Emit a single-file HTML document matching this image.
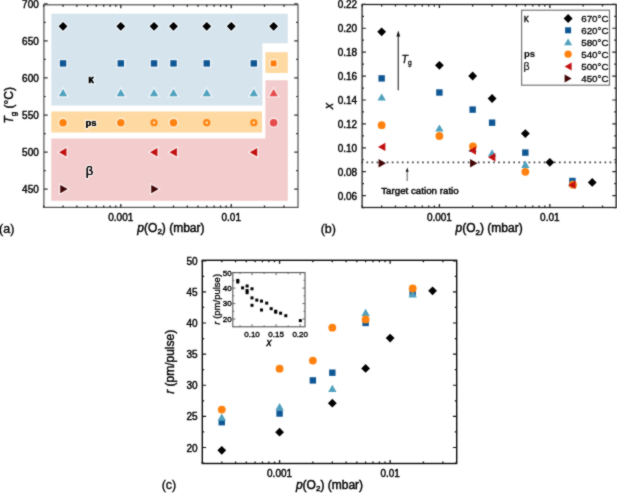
<!DOCTYPE html>
<html><head><meta charset="utf-8"><style>
html,body{margin:0;padding:0;background:#fff;}
body{width:617px;height:493px;overflow:hidden;}
svg{display:block;}
#w{width:617px;height:493px;}
text{font-family:"Liberation Sans",sans-serif;stroke:#000;stroke-width:0.42px;paint-order:stroke;}
</style></head><body><div id="w">
<svg width="617" height="493" viewBox="0 0 617 493" font-family="Liberation Sans, sans-serif" fill="#000">
<defs><filter id="bl" x="0" y="0" width="1" height="1" color-interpolation-filters="sRGB"><feConvolveMatrix order="3" kernelMatrix="1 2 1 2 14 2 1 2 1" divisor="26" edgeMode="duplicate"/></filter></defs><g filter="url(#bl)">
<rect width="617" height="493" fill="#fff"/>
<polygon points="51.3,13.8 287.8,13.8 287.8,43.2 262.4,43.2 262.4,105.4 51.3,105.4" fill="#d6e4ed"/>
<rect x="51.3" y="111.5" width="210.7" height="21" fill="#fed9a2"/>
<rect x="265.4" y="52.2" width="22.4" height="20.8" fill="#fed9a2"/>
<polygon points="51.3,138.6 265.4,138.6 265.4,80.2 287.8,80.2 287.8,200.7 51.3,200.7" fill="#f3cccd"/>
<rect x="43.9" y="4.8" width="254.1" height="202.6" fill="none" stroke="#505050" stroke-width="1.2"/>
<path d="M120.8 207.4V203.9M120.8 4.8V8.3M231.25 207.4V203.9M231.25 4.8V8.3M43.6 207.4V205.5M43.6 4.8V6.7M63.05 207.4V205.5M63.05 4.8V6.7M76.85 207.4V205.5M76.85 4.8V6.7M87.55 207.4V205.5M87.55 4.8V6.7M96.3 207.4V205.5M96.3 4.8V6.7M103.69 207.4V205.5M103.69 4.8V6.7M110.1 207.4V205.5M110.1 4.8V6.7M115.75 207.4V205.5M115.75 4.8V6.7M154.05 207.4V205.5M154.05 4.8V6.7M173.5 207.4V205.5M173.5 4.8V6.7M187.3 207.4V205.5M187.3 4.8V6.7M198 207.4V205.5M198 4.8V6.7M206.75 207.4V205.5M206.75 4.8V6.7M214.14 207.4V205.5M214.14 4.8V6.7M220.55 207.4V205.5M220.55 4.8V6.7M226.2 207.4V205.5M226.2 4.8V6.7M264.5 207.4V205.5M264.5 4.8V6.7M283.95 207.4V205.5M283.95 4.8V6.7" stroke="#222" stroke-width="1.3" fill="none"/>
<path d="M43.9 3.82H47.7M298 3.82H294.2M43.9 40.9H47.7M298 40.9H294.2M43.9 77.97H47.7M298 77.97H294.2M43.9 115.05H47.7M298 115.05H294.2M43.9 152.12H47.7M298 152.12H294.2M43.9 189.2H47.7M298 189.2H294.2M43.9 22.36H45.8M298 22.36H296.1M43.9 59.44H45.8M298 59.44H296.1M43.9 96.51H45.8M298 96.51H296.1M43.9 133.59H45.8M298 133.59H296.1M43.9 170.66H45.8M298 170.66H296.1" stroke="#333" stroke-width="1.2" fill="none"/>
<text x="38.8" y="7.52" font-size="10" text-anchor="end" >700</text>
<text x="38.8" y="44.6" font-size="10" text-anchor="end" >650</text>
<text x="38.8" y="81.67" font-size="10" text-anchor="end" >600</text>
<text x="38.8" y="118.75" font-size="10" text-anchor="end" >550</text>
<text x="38.8" y="155.82" font-size="10" text-anchor="end" >500</text>
<text x="38.8" y="192.9" font-size="10" text-anchor="end" >450</text>
<text x="120.8" y="220.6" font-size="10" text-anchor="middle" >0.001</text>
<text x="231.25" y="220.6" font-size="10" text-anchor="middle" >0.01</text>
<text x="170.95" y="231.5" font-size="12" text-anchor="middle" style="stroke-width:0.45px"><tspan font-style="italic">p</tspan>(O<tspan font-size="8" dy="2.6">2</tspan><tspan dy="-2.6">) (mbar)</tspan></text>
<text transform="translate(13.3 105.3) rotate(-90)" font-size="12" text-anchor="middle"><tspan font-style="italic">T</tspan><tspan font-size="8" dy="3.0">g</tspan><tspan dy="-3.0"> (°C)</tspan></text>
<text x="-0.9" y="232.6" font-size="12.5" text-anchor="start" style="stroke-width:0.35px">(a)</text>
<polygon points="63.05,21.9 67.45,26.3 63.05,30.7 58.65,26.3" fill="#000000" stroke="#fff" stroke-opacity="0.6" stroke-width="2.6" paint-order="stroke"/>
<polygon points="120.8,21.9 125.2,26.3 120.8,30.7 116.4,26.3" fill="#000000" stroke="#fff" stroke-opacity="0.6" stroke-width="2.6" paint-order="stroke"/>
<polygon points="154.05,21.9 158.45,26.3 154.05,30.7 149.65,26.3" fill="#000000" stroke="#fff" stroke-opacity="0.6" stroke-width="2.6" paint-order="stroke"/>
<polygon points="173.5,21.9 177.9,26.3 173.5,30.7 169.1,26.3" fill="#000000" stroke="#fff" stroke-opacity="0.6" stroke-width="2.6" paint-order="stroke"/>
<polygon points="206.75,21.9 211.15,26.3 206.75,30.7 202.35,26.3" fill="#000000" stroke="#fff" stroke-opacity="0.6" stroke-width="2.6" paint-order="stroke"/>
<polygon points="231.25,21.9 235.65,26.3 231.25,30.7 226.85,26.3" fill="#000000" stroke="#fff" stroke-opacity="0.6" stroke-width="2.6" paint-order="stroke"/>
<polygon points="273.64,21.9 278.04,26.3 273.64,30.7 269.24,26.3" fill="#000000" stroke="#fff" stroke-opacity="0.6" stroke-width="2.6" paint-order="stroke"/>
<rect x="59.85" y="60.2" width="6.4" height="6.4" fill="#0f5794" stroke="#fff" stroke-opacity="0.6" stroke-width="2.6" paint-order="stroke"/>
<rect x="117.6" y="60.2" width="6.4" height="6.4" fill="#0f5794" stroke="#fff" stroke-opacity="0.6" stroke-width="2.6" paint-order="stroke"/>
<rect x="150.85" y="60.2" width="6.4" height="6.4" fill="#0f5794" stroke="#fff" stroke-opacity="0.6" stroke-width="2.6" paint-order="stroke"/>
<rect x="170.3" y="60.2" width="6.4" height="6.4" fill="#0f5794" stroke="#fff" stroke-opacity="0.6" stroke-width="2.6" paint-order="stroke"/>
<rect x="203.55" y="60.2" width="6.4" height="6.4" fill="#0f5794" stroke="#fff" stroke-opacity="0.6" stroke-width="2.6" paint-order="stroke"/>
<rect x="250.6" y="60.2" width="6.4" height="6.4" fill="#0f5794" stroke="#fff" stroke-opacity="0.6" stroke-width="2.6" paint-order="stroke"/>
<rect x="270.74" y="60.5" width="5.8" height="5.8" fill="#ff7a08" stroke="#fff" stroke-opacity="0.6" stroke-width="2.6" paint-order="stroke"/>
<polygon points="63.05,89 67.25,96.2 58.85,96.2" fill="#50a1be" stroke="#fff" stroke-opacity="0.6" stroke-width="2.6" paint-order="stroke"/>
<polygon points="120.8,89 125,96.2 116.6,96.2" fill="#50a1be" stroke="#fff" stroke-opacity="0.6" stroke-width="2.6" paint-order="stroke"/>
<polygon points="154.05,89 158.25,96.2 149.85,96.2" fill="#50a1be" stroke="#fff" stroke-opacity="0.6" stroke-width="2.6" paint-order="stroke"/>
<polygon points="173.5,89 177.7,96.2 169.3,96.2" fill="#50a1be" stroke="#fff" stroke-opacity="0.6" stroke-width="2.6" paint-order="stroke"/>
<polygon points="206.75,89 210.95,96.2 202.55,96.2" fill="#50a1be" stroke="#fff" stroke-opacity="0.6" stroke-width="2.6" paint-order="stroke"/>
<polygon points="253.8,89 258,96.2 249.6,96.2" fill="#50a1be" stroke="#fff" stroke-opacity="0.6" stroke-width="2.6" paint-order="stroke"/>
<polygon points="273.64,89 277.84,96.2 269.44,96.2" fill="#e64c4c" stroke="#fff" stroke-opacity="0.6" stroke-width="2.6" paint-order="stroke"/>
<circle cx="63.05" cy="122.7" r="3.8" fill="#ff8210" stroke="#fff" stroke-opacity="0.6" stroke-width="2.6" paint-order="stroke"/>
<circle cx="120.8" cy="122.7" r="3.8" fill="#ff8210" stroke="#fff" stroke-opacity="0.6" stroke-width="2.6" paint-order="stroke"/>
<circle cx="173.5" cy="122.7" r="3.8" fill="#ff8210" stroke="#fff" stroke-opacity="0.6" stroke-width="2.6" paint-order="stroke"/>
<circle cx="154.05" cy="122.7" r="2.5" fill="none" stroke="#ff8210" stroke-width="2.2"/>
<circle cx="206.75" cy="122.7" r="2.5" fill="none" stroke="#ff8210" stroke-width="2.2"/>
<circle cx="253.8" cy="122.7" r="2.5" fill="none" stroke="#ff8210" stroke-width="2.2"/>
<circle cx="273.64" cy="122.7" r="3.8" fill="#e64c4c" stroke="#fff" stroke-opacity="0.6" stroke-width="2.6" paint-order="stroke"/>
<polygon points="59.05,152.3 66.45,148.1 66.45,156.5" fill="#c21010" stroke="#fff" stroke-opacity="0.6" stroke-width="2.6" paint-order="stroke"/>
<polygon points="150.05,152.3 157.45,148.1 157.45,156.5" fill="#c21010" stroke="#fff" stroke-opacity="0.6" stroke-width="2.6" paint-order="stroke"/>
<polygon points="169.5,152.3 176.9,148.1 176.9,156.5" fill="#c21010" stroke="#fff" stroke-opacity="0.6" stroke-width="2.6" paint-order="stroke"/>
<polygon points="249.8,152.3 257.2,148.1 257.2,156.5" fill="#c21010" stroke="#fff" stroke-opacity="0.6" stroke-width="2.6" paint-order="stroke"/>
<polygon points="67.65,189.1 60.25,184.9 60.25,193.3" fill="#420606" stroke="#fff" stroke-opacity="0.6" stroke-width="2.6" paint-order="stroke"/>
<polygon points="158.65,189.1 151.25,184.9 151.25,193.3" fill="#420606" stroke="#fff" stroke-opacity="0.6" stroke-width="2.6" paint-order="stroke"/>
<text x="91.1" y="83" font-size="10" text-anchor="middle" font-weight="bold" style="stroke:#fff;stroke-opacity:0.7;stroke-width:2.4px">κ</text>
<text x="91" y="126" font-size="9.5" text-anchor="middle" font-weight="bold" style="stroke:#fff;stroke-opacity:0.7;stroke-width:2.4px">ps</text>
<text x="89.4" y="175.2" font-size="13" text-anchor="middle" style="stroke:#fff;stroke-opacity:0.7;stroke-width:2.4px">β</text>
<text x="91.1" y="83" font-size="10" text-anchor="middle" font-weight="bold">κ</text>
<text x="91" y="126" font-size="9.5" text-anchor="middle" font-weight="bold" style="stroke-width:0.05px">ps</text>
<text x="89.4" y="175.2" font-size="13" text-anchor="middle" style="stroke-width:0.15px">β</text>
<line x1="361.35" y1="162.4" x2="616.1" y2="162.4" stroke="#444" stroke-width="1.7" stroke-dasharray="1.7 3.366"/>
<rect x="362.1" y="4.5" width="254" height="203" fill="none" stroke="#1e1e1e" stroke-width="1.25"/>
<path d="M439.4 207.5V204M439.4 4.5V8M549.85 207.5V204M549.85 4.5V8M362.2 207.5V205.6M362.2 4.5V6.4M381.65 207.5V205.6M381.65 4.5V6.4M395.45 207.5V205.6M395.45 4.5V6.4M406.15 207.5V205.6M406.15 4.5V6.4M414.9 207.5V205.6M414.9 4.5V6.4M422.29 207.5V205.6M422.29 4.5V6.4M428.7 207.5V205.6M428.7 4.5V6.4M434.35 207.5V205.6M434.35 4.5V6.4M472.65 207.5V205.6M472.65 4.5V6.4M492.1 207.5V205.6M492.1 4.5V6.4M505.9 207.5V205.6M505.9 4.5V6.4M516.6 207.5V205.6M516.6 4.5V6.4M525.35 207.5V205.6M525.35 4.5V6.4M532.74 207.5V205.6M532.74 4.5V6.4M539.15 207.5V205.6M539.15 4.5V6.4M544.8 207.5V205.6M544.8 4.5V6.4M583.1 207.5V205.6M583.1 4.5V6.4M602.55 207.5V205.6M602.55 4.5V6.4" stroke="#222" stroke-width="1.3" fill="none"/>
<path d="M362.1 4.35H365.9M616.1 4.35H612.3M362.1 28.26H365.9M616.1 28.26H612.3M362.1 52.17H365.9M616.1 52.17H612.3M362.1 76.07H365.9M616.1 76.07H612.3M362.1 99.98H365.9M616.1 99.98H612.3M362.1 123.88H365.9M616.1 123.88H612.3M362.1 147.79H365.9M616.1 147.79H612.3M362.1 171.7H365.9M616.1 171.7H612.3M362.1 195.6H365.9M616.1 195.6H612.3M362.1 16.31H364M616.1 16.31H614.2M362.1 40.21H364M616.1 40.21H614.2M362.1 64.12H364M616.1 64.12H614.2M362.1 88.03H364M616.1 88.03H614.2M362.1 111.93H364M616.1 111.93H614.2M362.1 135.84H364M616.1 135.84H614.2M362.1 159.74H364M616.1 159.74H614.2M362.1 183.65H364M616.1 183.65H614.2M362.1 207.56H364M616.1 207.56H614.2" stroke="#222" stroke-width="1.2" fill="none"/>
<text x="357.2" y="8.35" font-size="10" text-anchor="end" >0.22</text>
<text x="357.2" y="32.26" font-size="10" text-anchor="end" >0.20</text>
<text x="357.2" y="56.17" font-size="10" text-anchor="end" >0.18</text>
<text x="357.2" y="80.07" font-size="10" text-anchor="end" >0.16</text>
<text x="357.2" y="103.98" font-size="10" text-anchor="end" >0.14</text>
<text x="357.2" y="127.88" font-size="10" text-anchor="end" >0.12</text>
<text x="357.2" y="151.79" font-size="10" text-anchor="end" >0.10</text>
<text x="357.2" y="175.7" font-size="10" text-anchor="end" >0.08</text>
<text x="357.2" y="199.6" font-size="10" text-anchor="end" >0.06</text>
<text x="439.4" y="220.8" font-size="10" text-anchor="middle" >0.001</text>
<text x="549.85" y="220.8" font-size="10" text-anchor="middle" >0.01</text>
<text x="489.1" y="231.9" font-size="12" text-anchor="middle" style="stroke-width:0.45px"><tspan font-style="italic">p</tspan>(O<tspan font-size="8" dy="2.6">2</tspan><tspan dy="-2.6">) (mbar)</tspan></text>
<text transform="translate(332.6 106.1) rotate(-90)" font-size="12" text-anchor="middle" font-style="italic">x</text>
<text x="320.7" y="232.9" font-size="12.5" text-anchor="start" style="stroke-width:0.35px">(b)</text>
<polygon points="381.65,27.4 386.05,31.8 381.65,36.2 377.25,31.8" fill="#000000"/>
<polygon points="439.4,60.9 443.8,65.3 439.4,69.7 435,65.3" fill="#000000"/>
<polygon points="472.65,71.6 477.05,76 472.65,80.4 468.25,76" fill="#000000"/>
<polygon points="492.1,94.1 496.5,98.5 492.1,102.9 487.7,98.5" fill="#000000"/>
<polygon points="525.35,129.2 529.75,133.6 525.35,138 520.95,133.6" fill="#000000"/>
<polygon points="549.85,157.9 554.25,162.3 549.85,166.7 545.45,162.3" fill="#000000"/>
<polygon points="592.24,178 596.64,182.4 592.24,186.8 587.84,182.4" fill="#000000"/>
<rect x="378.45" y="75.2" width="6.4" height="6.4" fill="#0f5794"/>
<rect x="436.2" y="89.3" width="6.4" height="6.4" fill="#0f5794"/>
<rect x="469.45" y="106.4" width="6.4" height="6.4" fill="#0f5794"/>
<rect x="488.9" y="119.5" width="6.4" height="6.4" fill="#0f5794"/>
<rect x="522.15" y="149.4" width="6.4" height="6.4" fill="#0f5794"/>
<rect x="569.2" y="177.8" width="6.4" height="6.4" fill="#0f5794"/>
<polygon points="381.65,93.4 385.85,100.6 377.45,100.6" fill="#50a1be"/>
<polygon points="439.4,124.4 443.6,131.6 435.2,131.6" fill="#50a1be"/>
<polygon points="472.65,144.9 476.85,152.1 468.45,152.1" fill="#50a1be"/>
<polygon points="492.1,149.2 496.3,156.4 487.9,156.4" fill="#50a1be"/>
<polygon points="525.35,160.8 529.55,168 521.15,168" fill="#50a1be"/>
<polygon points="572.4,179.4 576.6,186.6 568.2,186.6" fill="#50a1be"/>
<circle cx="381.65" cy="125.2" r="3.9" fill="#ff8210"/>
<circle cx="439.4" cy="136" r="3.9" fill="#ff8210"/>
<circle cx="472.95" cy="146.3" r="3.9" fill="#ff8210"/>
<circle cx="525.35" cy="171.8" r="3.9" fill="#ff8210"/>
<circle cx="573" cy="184.7" r="3.9" fill="#ff8210"/>
<polygon points="377.95,146.9 385.35,142.7 385.35,151.1" fill="#c21010"/>
<polygon points="468.55,150.6 475.95,146.4 475.95,154.8" fill="#c21010"/>
<polygon points="488,157.2 495.4,153 495.4,161.4" fill="#c21010"/>
<polygon points="568.1,184.9 575.5,180.7 575.5,189.1" fill="#c21010"/>
<polygon points="385.95,163.2 378.55,159 378.55,167.4" fill="#420606"/>
<polygon points="477.45,163.2 470.05,159 470.05,167.4" fill="#420606"/>
<line x1="398.3" y1="90.2" x2="398.3" y2="35" stroke="#555" stroke-width="1.4"/>
<polygon points="398.3,30.6 400.2,36.4 396.4,36.4" fill="#111"/>
<text x="401.6" y="62.6" font-size="10.5" style="stroke-width:0.3px"><tspan font-style="italic">T</tspan><tspan font-size="6.5" dy="2.6">g</tspan></text>
<line x1="407.2" y1="181" x2="407.2" y2="170.5" stroke="#777" stroke-width="1.2"/>
<polygon points="407.2,167.6 408.7,171.8 405.7,171.8" fill="#111"/>
<text x="381.2" y="194.3" font-size="9.75" text-anchor="start" >Target cation ratio</text>
<rect x="521.6" y="10.2" width="87.9" height="75" fill="#fff" stroke="#777" stroke-width="1.2"/>
<polygon points="568.1,13.9 572.6,18.4 568.1,22.9 563.6,18.4" fill="#000000"/>
<rect x="565.1" y="27.3" width="6" height="6" fill="#0f5794"/>
<polygon points="568.1,38.5 572.1,45.3 564.1,45.3" fill="#50a1be"/>
<circle cx="568.1" cy="54.2" r="3.6" fill="#ff8210"/>
<polygon points="564.6,66.4 571.6,62.4 571.6,70.4" fill="#c21010"/>
<polygon points="571.6,78.6 564.6,74.6 564.6,82.6" fill="#420606"/>
<text x="581.2" y="22.2" font-size="9.8" text-anchor="start" style="stroke-width:0.3px">670°C</text>
<text x="581.2" y="34.1" font-size="9.8" text-anchor="start" style="stroke-width:0.3px">620°C</text>
<text x="581.2" y="45.7" font-size="9.8" text-anchor="start" style="stroke-width:0.3px">580°C</text>
<text x="581.2" y="58" font-size="9.8" text-anchor="start" style="stroke-width:0.3px">540°C</text>
<text x="581.2" y="70.2" font-size="9.8" text-anchor="start" style="stroke-width:0.3px">500°C</text>
<text x="581.2" y="82.4" font-size="9.8" text-anchor="start" style="stroke-width:0.3px">450°C</text>
<text x="523.8" y="22.4" font-size="10" text-anchor="start" style="stroke-width:0.3px">κ</text>
<text x="523.9" y="57.4" font-size="9.5" text-anchor="start" font-weight="bold" style="stroke-width:0.1px">ps</text>
<text x="523.6" y="69.6" font-size="10.5" text-anchor="start" style="stroke-width:0.15px">β</text>
<rect x="202.3" y="260.3" width="254.4" height="203.2" fill="none" stroke="#000" stroke-width="1.35"/>
<path d="M279.58 463.5V460M279.58 260.3V263.8M390.14 463.5V460M390.14 260.3V263.8M202.3 463.5V461.6M202.3 260.3V262.2M221.77 463.5V461.6M221.77 260.3V262.2M235.58 463.5V461.6M235.58 260.3V262.2M246.3 463.5V461.6M246.3 260.3V262.2M255.05 463.5V461.6M255.05 260.3V262.2M262.45 463.5V461.6M262.45 260.3V262.2M268.86 463.5V461.6M268.86 260.3V262.2M274.52 463.5V461.6M274.52 260.3V262.2M312.86 463.5V461.6M312.86 260.3V262.2M332.33 463.5V461.6M332.33 260.3V262.2M346.14 463.5V461.6M346.14 260.3V262.2M356.86 463.5V461.6M356.86 260.3V262.2M365.61 463.5V461.6M365.61 260.3V262.2M373.01 463.5V461.6M373.01 260.3V262.2M379.42 463.5V461.6M379.42 260.3V262.2M385.08 463.5V461.6M385.08 260.3V262.2M423.42 463.5V461.6M423.42 260.3V262.2M442.89 463.5V461.6M442.89 260.3V262.2" stroke="#111" stroke-width="1.3" fill="none"/>
<path d="M202.3 260.78H206.1M456.7 260.78H452.9M202.3 291.9H206.1M456.7 291.9H452.9M202.3 323.02H206.1M456.7 323.02H452.9M202.3 354.14H206.1M456.7 354.14H452.9M202.3 385.26H206.1M456.7 385.26H452.9M202.3 416.38H206.1M456.7 416.38H452.9M202.3 447.5H206.1M456.7 447.5H452.9M202.3 276.34H204.2M456.7 276.34H454.8M202.3 307.46H204.2M456.7 307.46H454.8M202.3 338.58H204.2M456.7 338.58H454.8M202.3 369.7H204.2M456.7 369.7H454.8M202.3 400.82H204.2M456.7 400.82H454.8M202.3 431.94H204.2M456.7 431.94H454.8M202.3 463.06H204.2M456.7 463.06H454.8" stroke="#111" stroke-width="1.2" fill="none"/>
<text x="197.6" y="264.78" font-size="10" text-anchor="end" >50</text>
<text x="197.6" y="295.9" font-size="10" text-anchor="end" >45</text>
<text x="197.6" y="327.02" font-size="10" text-anchor="end" >40</text>
<text x="197.6" y="358.14" font-size="10" text-anchor="end" >35</text>
<text x="197.6" y="389.26" font-size="10" text-anchor="end" >30</text>
<text x="197.6" y="420.38" font-size="10" text-anchor="end" >25</text>
<text x="197.6" y="451.5" font-size="10" text-anchor="end" >20</text>
<text x="279.58" y="476.6" font-size="10" text-anchor="middle" >0.001</text>
<text x="390.14" y="476.6" font-size="10" text-anchor="middle" >0.01</text>
<text x="329.5" y="488.8" font-size="12" text-anchor="middle" style="stroke-width:0.45px"><tspan font-style="italic">p</tspan>(O<tspan font-size="8" dy="2.6">2</tspan><tspan dy="-2.6">) (mbar)</tspan></text>
<text transform="translate(174.4 361.8) rotate(-90)" font-size="12" text-anchor="middle"><tspan font-style="italic">r</tspan> (pm/pulse)</text>
<text x="161.7" y="489.3" font-size="12.5" text-anchor="start" style="stroke-width:0.35px">(c)</text>
<polygon points="221.77,445.9 226.17,450.3 221.77,454.7 217.37,450.3" fill="#000000"/>
<polygon points="279.58,427.8 283.98,432.2 279.58,436.6 275.18,432.2" fill="#000000"/>
<polygon points="332.33,398.8 336.73,403.2 332.33,407.6 327.93,403.2" fill="#000000"/>
<polygon points="365.61,364 370.01,368.4 365.61,372.8 361.21,368.4" fill="#000000"/>
<polygon points="390.14,333.7 394.54,338.1 390.14,342.5 385.74,338.1" fill="#000000"/>
<polygon points="432.57,286.4 436.97,290.8 432.57,295.2 428.17,290.8" fill="#000000"/>
<rect x="218.57" y="419" width="6.4" height="6.4" fill="#0f5794"/>
<rect x="276.38" y="410.3" width="6.4" height="6.4" fill="#0f5794"/>
<rect x="309.66" y="377.2" width="6.4" height="6.4" fill="#0f5794"/>
<rect x="329.13" y="369.5" width="6.4" height="6.4" fill="#0f5794"/>
<rect x="362.41" y="319.7" width="6.4" height="6.4" fill="#0f5794"/>
<rect x="409.5" y="290" width="6.4" height="6.4" fill="#0f5794"/>
<polygon points="221.77,413.6 225.97,420.8 217.57,420.8" fill="#50a1be"/>
<polygon points="279.58,403 283.78,410.2 275.38,410.2" fill="#50a1be"/>
<polygon points="332.33,384.8 336.53,392 328.13,392" fill="#50a1be"/>
<polygon points="365.61,308.8 369.81,316 361.41,316" fill="#50a1be"/>
<polygon points="412.7,290.4 416.9,297.6 408.5,297.6" fill="#50a1be"/>
<circle cx="221.77" cy="409.6" r="3.9" fill="#ff8210"/>
<circle cx="279.58" cy="368.7" r="3.9" fill="#ff8210"/>
<circle cx="312.86" cy="360.6" r="3.9" fill="#ff8210"/>
<circle cx="332.33" cy="327.7" r="3.9" fill="#ff8210"/>
<circle cx="365.61" cy="319.5" r="3.9" fill="#ff8210"/>
<circle cx="412.7" cy="288.5" r="3.9" fill="#ff8210"/>
<rect x="232.8" y="272.6" width="72.2" height="54.2" fill="#fff" stroke="#555" stroke-width="1.1"/>
<path d="M252.05 326.8V324.2M252.05 272.6V275.2M276.12 326.8V324.2M276.12 272.6V275.2M300.19 326.8V324.2M300.19 272.6V275.2M240.02 326.8V325.3M240.02 272.6V274.1M264.09 326.8V325.3M264.09 272.6V274.1M288.15 326.8V325.3M288.15 272.6V274.1" stroke="#555" stroke-width="0.9" fill="none"/>
<path d="M232.8 272.6H235.4M305 272.6H302.4M232.8 288.09H235.4M305 288.09H302.4M232.8 303.57H235.4M305 303.57H302.4M232.8 319.06H235.4M305 319.06H302.4M232.8 280.34H234.3M305 280.34H303.5M232.8 295.83H234.3M305 295.83H303.5M232.8 311.31H234.3M305 311.31H303.5" stroke="#555" stroke-width="0.9" fill="none"/>
<text x="252.05" y="337" font-size="8" text-anchor="middle" style="stroke-width:0.35px">0.10</text>
<text x="276.12" y="337" font-size="8" text-anchor="middle" style="stroke-width:0.35px">0.15</text>
<text x="300.19" y="337" font-size="8" text-anchor="middle" style="stroke-width:0.35px">0.20</text>
<text x="231.7" y="275.5" font-size="8" text-anchor="end" style="stroke-width:0.35px">50</text>
<text x="231.7" y="290.99" font-size="8" text-anchor="end" style="stroke-width:0.35px">40</text>
<text x="231.7" y="306.47" font-size="8" text-anchor="end" style="stroke-width:0.35px">30</text>
<text x="231.7" y="321.96" font-size="8" text-anchor="end" style="stroke-width:0.35px">20</text>
<text transform="translate(219.6 299.3) rotate(-90)" font-size="9.5" text-anchor="middle" style="stroke-width:0.3px"><tspan font-style="italic">r</tspan> (pm/pulse)</text>
<text x="269" y="346" font-size="10" text-anchor="middle" font-style="italic">x</text>
<rect x="236.3" y="278.9" width="3" height="3" fill="#000"/>
<rect x="236.3" y="280.5" width="3" height="3" fill="#000"/>
<rect x="241.1" y="286.4" width="3" height="3" fill="#000"/>
<rect x="245.6" y="284.5" width="3" height="3" fill="#000"/>
<rect x="245.6" y="289" width="3" height="3" fill="#000"/>
<rect x="245.6" y="291.2" width="3" height="3" fill="#000"/>
<rect x="250.5" y="287.3" width="3" height="3" fill="#000"/>
<rect x="250.5" y="296.4" width="3" height="3" fill="#000"/>
<rect x="250.5" y="303.8" width="3" height="3" fill="#000"/>
<rect x="255.3" y="298.6" width="3" height="3" fill="#000"/>
<rect x="260" y="299.6" width="3" height="3" fill="#000"/>
<rect x="260" y="308.5" width="3" height="3" fill="#000"/>
<rect x="265.2" y="301.6" width="3" height="3" fill="#000"/>
<rect x="269.7" y="307.2" width="3" height="3" fill="#000"/>
<rect x="274.2" y="309.7" width="3" height="3" fill="#000"/>
<rect x="274.2" y="310.7" width="3" height="3" fill="#000"/>
<rect x="279.1" y="311.7" width="3" height="3" fill="#000"/>
<rect x="284.3" y="314.2" width="3" height="3" fill="#000"/>
<rect x="298.8" y="319.1" width="3" height="3" fill="#000"/>
</g></svg>
</div></body></html>
